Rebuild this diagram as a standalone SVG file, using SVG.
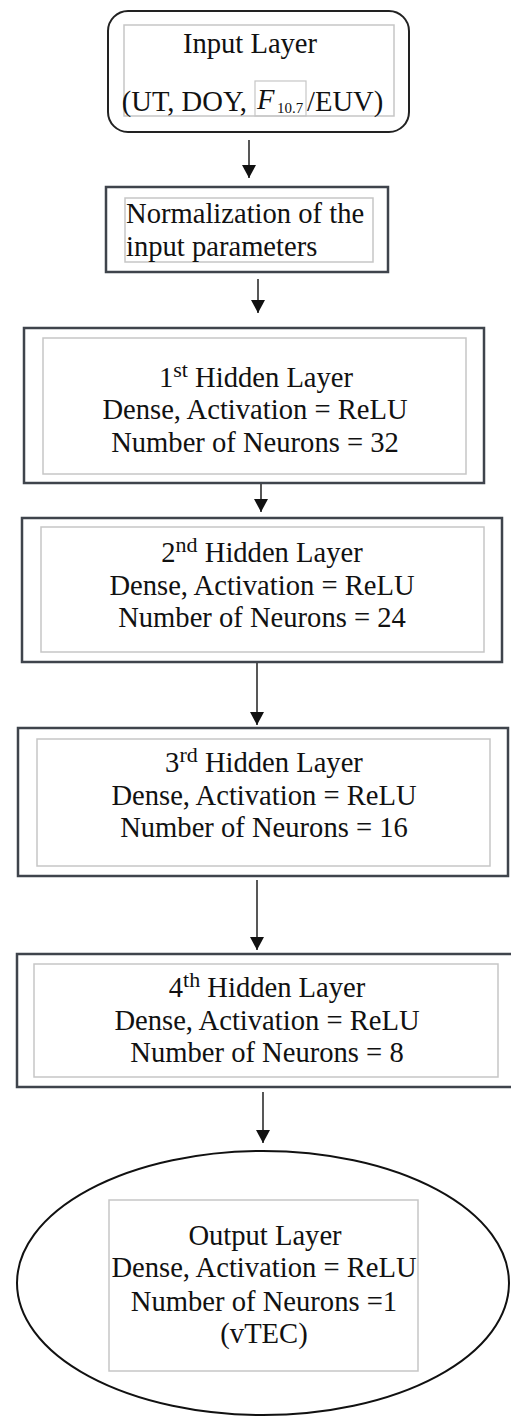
<svg xmlns="http://www.w3.org/2000/svg" width="511" height="1418" viewBox="0 0 511 1418">
  <style>
    .outer { fill: #ffffff; stroke: #3f444c; stroke-width: 2.5; }
    .round { fill: #ffffff; stroke: #222222; stroke-width: 2; }
    .inner { fill: none; stroke: #c6c6c6; stroke-width: 1.5; }
    .lbl { font-family: "Liberation Serif", "Times New Roman", serif; font-size: 28.6px; fill: #111111; text-anchor: middle; }
    .sup { font-size: 22px; }
    .conn { stroke: #111111; stroke-width: 1.4; fill: none; marker-end: url(#head); }
  </style>
  <defs>
    <marker id="head" markerUnits="userSpaceOnUse" markerWidth="14" markerHeight="14" refX="13" refY="7" orient="auto" viewBox="0 0 14 14">
      <path d="M0,0 L13,7 L0,14 Z" fill="#111111"/>
    </marker>
  </defs>
  <rect width="511" height="1418" fill="#ffffff"/>

  <!-- connectors between the layers -->
  <g id="connectors">
    <line class="conn" x1="249" y1="140" x2="249" y2="178"/>
    <line class="conn" x1="258" y1="279" x2="258" y2="313"/>
    <line class="conn" x1="261" y1="484" x2="261" y2="512"/>
    <line class="conn" x1="257" y1="663" x2="257" y2="725"/>
    <line class="conn" x1="257" y1="880" x2="257" y2="950"/>
    <line class="conn" x1="263" y1="1092" x2="263" y2="1143"/>
  </g>

  <!-- input layer -->
  <g id="input-layer">
    <rect class="round" x="108" y="11" width="301" height="121" rx="20" ry="20"/>
    <rect class="inner" x="124" y="25" width="270" height="91"/>
    <text class="lbl" x="250" y="53">Input Layer</text>
    <text class="lbl" x="247" y="111" style="text-anchor:end">(UT, DOY,</text>
    <rect class="inner" x="255" y="81" width="51" height="35" style="stroke-width:1.2"/>
    <text class="lbl" x="257" y="109" style="text-anchor:start;font-style:italic">F</text>
    <text class="lbl" x="277" y="113" style="text-anchor:start;font-size:15px">10.7</text>
    <text class="lbl" x="307" y="111" style="text-anchor:start">/EUV)</text>
  </g>

  <!-- normalization step -->
  <g id="normalization">
    <rect class="outer" x="106" y="187" width="282" height="85"/>
    <rect class="inner" x="125" y="198" width="248" height="64"/>
    <text class="lbl" x="126" y="223" style="text-anchor:start">Normalization of the</text>
    <text class="lbl" x="126" y="256" style="text-anchor:start">input parameters</text>
  </g>

  <!-- hidden layer 1 -->
  <g id="hidden-1">
    <rect class="outer" x="24" y="328" width="460" height="155"/>
    <rect class="inner" x="43" y="338" width="423" height="136"/>
    <text class="lbl" x="256" y="387">1<tspan class="sup" dy="-10">st</tspan><tspan dy="10"> Hidden Layer</tspan></text>
    <text class="lbl" x="255" y="419">Dense, Activation = ReLU</text>
    <text class="lbl" x="255" y="452">Number of Neurons = 32</text>
  </g>

  <!-- hidden layer 2 -->
  <g id="hidden-2">
    <rect class="outer" x="22" y="518" width="480" height="144"/>
    <rect class="inner" x="41" y="527" width="443" height="125"/>
    <text class="lbl" x="262" y="562">2<tspan class="sup" dy="-10">nd</tspan><tspan dy="10"> Hidden Layer</tspan></text>
    <text class="lbl" x="262" y="595">Dense, Activation = ReLU</text>
    <text class="lbl" x="262" y="627">Number of Neurons = 24</text>
  </g>

  <!-- hidden layer 3 -->
  <g id="hidden-3">
    <rect class="outer" x="18" y="728" width="490" height="148"/>
    <rect class="inner" x="37" y="739" width="453" height="127"/>
    <text class="lbl" x="264" y="772">3<tspan class="sup" dy="-10">rd</tspan><tspan dy="10"> Hidden Layer</tspan></text>
    <text class="lbl" x="264" y="805">Dense, Activation = ReLU</text>
    <text class="lbl" x="264" y="837">Number of Neurons = 16</text>
  </g>

  <!-- hidden layer 4 -->
  <g id="hidden-4">
    <rect class="outer" x="17" y="954" width="500" height="133"/>
    <rect class="inner" x="34" y="964" width="464" height="113"/>
    <text class="lbl" x="267" y="997">4<tspan class="sup" dy="-10">th</tspan><tspan dy="10"> Hidden Layer</tspan></text>
    <text class="lbl" x="267" y="1030">Dense, Activation = ReLU</text>
    <text class="lbl" x="267" y="1062">Number of Neurons = 8</text>
  </g>

  <!-- output layer -->
  <g id="output-layer">
    <ellipse cx="263" cy="1283" rx="246" ry="132" fill="#ffffff" stroke="#111111" stroke-width="2"/>
    <rect class="inner" x="109" y="1200" width="309" height="171"/>
    <text class="lbl" x="265" y="1245">Output Layer</text>
    <text class="lbl" x="264" y="1277">Dense, Activation = ReLU</text>
    <text class="lbl" x="264" y="1311">Number of Neurons =1</text>
    <text class="lbl" x="264" y="1343">(vTEC)</text>
  </g>
</svg>
